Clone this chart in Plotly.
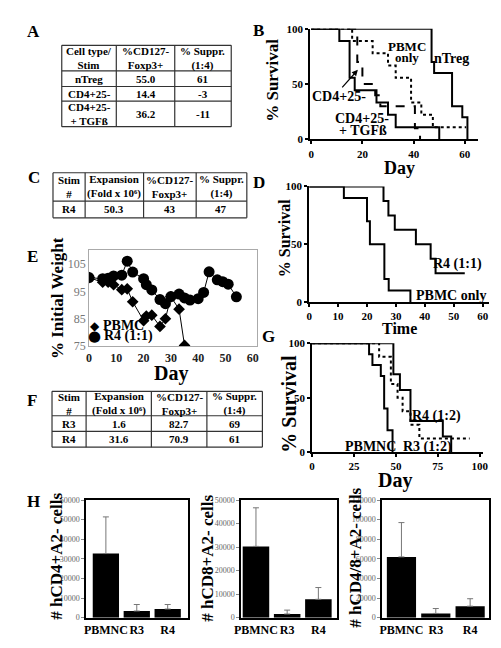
import plotly.graph_objects as go

W, H = 501, 648
def X(px): return px / W
def Y(py): return 1 - py / H

SERIF = "Liberation Serif"

# ---------------- DATA ----------------
# Table A
A_header = ["Cell type/<br>Stim", "%CD127-<br>Foxp3+", "% Suppr.<br>(1:4)"]
A_rows = [["nTreg", "55.0", "61"], ["CD4+25-", "14.4", "-3"], ["CD4+25-<br>+ TGFß", "36.2", "-11"]]
# Table C
C_header = ["Stim<br>#", "Expansion<br>(Fold x 10⁶)", "%CD127-<br>Foxp3+", "% Suppr.<br>(1:4)"]
C_rows = [["R4", "50.3", "43", "47"]]
# Table F
F_header = ["Stim<br>#", "Expansion<br>(Fold x 10⁶)", "%CD127-<br>Foxp3+", "% Suppr.<br>(1:4)"]
F_rows = [["R3", "1.6", "82.7", "69"], ["R4", "31.6", "70.9", "61"]]

# Panel B survival (day, % survival)
B_ntreg_day = [0, 47, 48, 55, 59, 61]
B_ntreg_surv = [100, 70, 60, 30, 20, 0]
B_pbmc_day = [0, 16, 24, 30, 33, 39, 43, 47.5, 60.5]
B_pbmc_surv = [100, 88.9, 77.8, 66.7, 55.6, 33.3, 22.2, 11.1, 11.1]
B_cd4_day = [0, 11, 15, 17, 25.5, 30, 33, 50]
B_cd4_surv = [100, 88.9, 55.6, 44.4, 33.3, 22.2, 11.1, 0]
B_tgf_day = [0, 18, 20, 25, 27, 40.5, 42.5]
B_tgf_surv = [100, 70, 50, 40, 30, 10, 0]

# Panel D
D_r4_day = [0, 25.7, 27.4, 29.6, 36.9, 42, 43.7, 53.8]
D_r4_surv = [100, 87.5, 75, 62.5, 50, 37.5, 25, 25]
D_pbmc_day = [0, 12, 20, 21, 26, 27.5, 35]
D_pbmc_surv = [100, 90, 70, 50, 20, 10, 0]

# Panel E weights
E_pbmc_day = [0, 5, 7, 9, 12, 14, 16, 20, 21, 23, 26, 28, 30, 33, 35]
E_pbmc_w = [100, 98.3, 98.3, 97.4, 95.6, 95.9, 91.2, 84.3, 86.0, 86.3, 82.2, 85.0, 93.0, 88.5, 75.3]
E_r4_day = [0, 5, 7, 9, 12, 14, 16, 20, 21, 23, 26, 28, 30, 33, 35, 37, 40, 42, 44, 47, 49, 51, 54]
E_r4_w = [100, 99.6, 99.8, 100.6, 100.9, 106, 102, 99.6, 97.4, 95.5, 92, 90.5, 93.1, 94, 92.6, 91.8, 92.3, 94.6, 102.1, 99.2, 98.5, 97.6, 93]

# Panel G
G_pbmnc_day = [0, 34, 36, 41, 43, 45, 48]
G_pbmnc_surv = [100, 90, 80, 70, 40, 20, 0]
G_r4_day = [0, 48.5, 52.4, 58.7, 78, 83]
G_r4_surv = [100, 71.4, 57.1, 28.6, 14.3, 0]
G_r3_day = [0, 40, 47, 51, 54, 58.7, 64, 94]
G_r3_surv = [100, 87.5, 62.5, 50, 37.5, 25, 12.5, 12.5]

# Panel H
H_cats = ["PBMNC", "R3", "R4"]
H1_vals = [32700, 3400, 4400]
H1_err = [51400, 6700, 6700]
H2_vals = [30300, 1550, 7800]
H2_err = [46700, 3200, 12800]
H3_vals = [62000, 4300, 11700]
H3_err = [97000, 9300, 19300]

# ---------------- FIGURE ----------------
fig = go.Figure()
ann = []
shapes = []

def text(x, y, s, size=11, bold=True, color="black", angle=0, xanchor="center", family=SERIF):
    ann.append(dict(x=X(x), y=Y(y), xref="paper", yref="paper", text=s, showarrow=False,
                    textangle=angle, xanchor=xanchor, yanchor="middle",
                    font=dict(family=family, size=size, color=color, weight="bold" if bold else "normal")))

def hline(x0, x1, y, color="#333", w=1.2):
    shapes.append(dict(type="line", xref="paper", yref="paper", x0=X(x0), x1=X(x1), y0=Y(y), y1=Y(y),
                       line=dict(color=color, width=w)))

def vline(x, y0, y1, color="#333", w=1.2):
    shapes.append(dict(type="line", xref="paper", yref="paper", x0=X(x), x1=X(x), y0=Y(y0), y1=Y(y1),
                       line=dict(color=color, width=w)))

def table(cols, rows_y, header, rows):
    for ry in rows_y:
        hline(cols[0], cols[-1], ry)
    for cx in cols:
        vline(cx, rows_y[0], rows_y[-1])
    all_rows = [header] + rows
    for i, row in enumerate(all_rows):
        yc = (rows_y[i] + rows_y[i + 1]) / 2
        for j, cell in enumerate(row):
            xc = (cols[j] + cols[j + 1]) / 2
            text(xc, yc, cell, size=11)

# Tables
table([48, 104, 164, 222], [32, 58, 74, 89, 115], A_header, A_rows)
table([39, 72, 132, 186, 238], [162, 191, 208], C_header, C_rows)
table([38, 73, 140, 197, 254], [385, 410, 426, 442], F_header, F_rows)

# Panel letters
for lab, (lx, ly) in {"A": (19, 18), "B": (250, 17), "C": (19, 167), "D": (251, 172),
                      "E": (18, 247), "F": (17, 394), "G": (260, 329), "H": (19, 497)}.items():
    text(lx, ly, lab, size=17)

surv_axis = dict(showline=True, linecolor="black", linewidth=2, ticks="outside", ticklen=3,
                 tickwidth=2, tickcolor="black", showgrid=False, zeroline=False,
                 tickfont=dict(family=SERIF, size=11, color="black", weight="bold"))

def step(xs, ys, xa, ya, dash="solid"):
    fig.add_trace(go.Scatter(x=xs, y=ys, mode="lines", line=dict(color="black", width=2, dash=dash, shape="hv"),
                             xaxis=xa, yaxis=ya, showlegend=False, hoverinfo="skip"))

# ---- Panel B ----
step(B_ntreg_day, B_ntreg_surv, "x", "y")
step(B_pbmc_day, B_pbmc_surv, "x", "y", "dot")
step(B_cd4_day, B_cd4_surv, "x", "y")
step(B_tgf_day, B_tgf_surv, "x", "y", "dash")

# ---- Panel D ----
step(D_r4_day, D_r4_surv, "x2", "y2")
step(D_pbmc_day, D_pbmc_surv, "x2", "y2")

# ---- Panel G ----
step(G_pbmnc_day, G_pbmnc_surv, "x4", "y4")
step(G_r4_day, G_r4_surv, "x4", "y4")
step(G_r3_day, G_r3_surv, "x4", "y4", "dot")

# ---- Panel E ----
fig.add_trace(go.Scatter(x=E_pbmc_day, y=E_pbmc_w, mode="lines+markers", xaxis="x3", yaxis="y3",
                         line=dict(color="black", width=1), marker=dict(symbol="diamond", size=9, color="black"),
                         showlegend=False))
fig.add_trace(go.Scatter(x=E_r4_day, y=E_r4_w, mode="lines+markers", xaxis="x3", yaxis="y3",
                         line=dict(color="black", width=1), marker=dict(symbol="circle", size=11, color="black"),
                         showlegend=False))

# ---- Panel H ----
for vals, errs, xa, ya in [(H1_vals, H1_err, "x5", "y5"), (H2_vals, H2_err, "x6", "y6"), (H3_vals, H3_err, "x7", "y7")]:
    fig.add_trace(go.Bar(x=H_cats, y=vals, xaxis=xa, yaxis=ya, width=0.85, marker=dict(color="black", line=dict(width=0)),
                         error_y=dict(type="data", symmetric=False, array=[e - v for e, v in zip(errs, vals)],
                                      arrayminus=[0, 0, 0], color="#777", thickness=1, width=3),
                         showlegend=False))

layout = dict(
    width=W, height=H, margin=dict(l=0, r=0, t=0, b=0), paper_bgcolor="white", plot_bgcolor="white",
    showlegend=False,
    # B
    xaxis=dict(domain=[X(303), X(475)], range=[-0.4, 65], anchor="y", tickvals=[0, 20, 40, 60], **surv_axis),
    yaxis=dict(domain=[Y(128), Y(15)], range=[0, 100], anchor="x", tickvals=[0, 50, 100], **surv_axis),
    # D
    xaxis2=dict(domain=[X(302), X(487)], range=[0, 62.3], anchor="y2", tickvals=[0, 10, 20, 30, 40, 50, 60], **surv_axis),
    yaxis2=dict(domain=[Y(294), Y(176)], range=[0, 100], anchor="x2", tickvals=[0, 50, 100], **surv_axis),
    # E
    xaxis3=dict(domain=[X(76), X(248)], range=[0, 61.4], anchor="y3", tickvals=[0, 10, 20, 30, 40, 50, 60],
                showline=True, mirror=True, linecolor="#aaa", linewidth=1, showgrid=False, zeroline=False, ticks="",
                tickfont=dict(family=SERIF, size=12, color="#222", weight="bold")),
    yaxis3=dict(domain=[Y(339), Y(241)], range=[75, 110], anchor="x3", tickvals=[75, 85, 95, 105],
                showline=True, mirror=True, linecolor="#aaa", linewidth=1, showgrid=False, zeroline=False, ticks="",
                tickfont=dict(family=SERIF, size=12, color="#777")),
    # G
    xaxis4=dict(domain=[X(305), X(480)], range=[0, 101.7], anchor="y4", tickvals=[0, 25, 50, 75, 100], **surv_axis),
    yaxis4=dict(domain=[Y(447), Y(336)], range=[0, 100], anchor="x4", tickvals=[0, 50, 100], **surv_axis),
)

h_x = dict(showline=True, mirror=True, linecolor="black", linewidth=1.5, ticks="", showgrid=False, zeroline=False,
           tickangle=0, tickfont=dict(family=SERIF, size=12, color="black", weight="bold"), type="category")
h_y = dict(showline=True, mirror=True, linecolor="black", linewidth=1.5, ticks="outside", ticklen=3,
           tickcolor="#888", showgrid=False, zeroline=False, tickformat="d",
           tickfont=dict(family=SERIF, size=8, color="#666"))
layout["xaxis5"] = dict(domain=[X(73), X(178)], range=[-0.64, 2.67], anchor="y5", **h_x)
layout["yaxis5"] = dict(domain=[Y(616), Y(496)], range=[0, 60000], anchor="x5",
                        tickvals=list(range(0, 60001, 10000)), **h_y)
layout["xaxis6"] = dict(domain=[X(232), X(331)], range=[-0.48, 2.61], anchor="y6", **h_x)
layout["yaxis6"] = dict(domain=[Y(616), Y(496)], range=[0, 50000], anchor="x6",
                        tickvals=list(range(0, 50001, 10000)), **h_y)
layout["xaxis7"] = dict(domain=[X(377), X(487)], range=[-0.56, 2.56], anchor="y7", **h_x)
layout["yaxis7"] = dict(domain=[Y(616), Y(496)], range=[0, 120000], anchor="x7",
                        tickvals=list(range(0, 120001, 20000)), **h_y)

# Axis titles
text(264, 68, "% Survival", size=17, angle=-90)
text(395, 157, "Day", size=18)
text(277, 229, "% Survival", size=16, angle=-90)
text(395, 321, "Time", size=16)
text(281, 398, "% Survival", size=20, angle=-90)
text(390, 476, "Day", size=20)
text(43, 290, "% Initial Weight", size=17, angle=-90)
text(160, 367, "Day", size=20)
text(43, 553, "# hCD4+A2- cells", size=17, angle=-90)
text(198, 555, "# hCD8+A2- cells", size=17, angle=-90)
text(350, 555, "# hCD4/8+A2- cells", size=17, angle=-90)

# Curve labels
text(402, 33, "PBMC", size=13)
text(402, 44, "only", size=13)
text(448, 45, "nTreg", size=14)
text(333, 84, "CD4+25-", size=14)
text(356, 107, "CD4+25-", size=14)
text(357, 119, "+ TGFß", size=14)
ann.append(dict(x=X(352), y=Y(57), ax=-17, ay=19, xref="paper", yref="paper", axref="pixel", ayref="pixel",
                text="", showarrow=True, arrowhead=2, arrowsize=1, arrowwidth=1.2, arrowcolor="black"))
text(454, 255, "R4 (1:1)", size=14)
text(448, 287, "PBMC only", size=14)
text(433, 410, "R4 (1:2)", size=14)
text(365, 441, "PBMNC", size=14)
text(424, 442, "R3 (1:2)", size=14)

# E legend
text(82, 318, "◆", size=12, family="DejaVu Sans")
text(88, 318, "PBMC", size=14, xanchor="left")
text(82, 329, "●", size=15, family="DejaVu Sans")
text(89, 329, "R4 (1:1)", size=14, xanchor="left")

layout["annotations"] = ann
layout["shapes"] = shapes
fig.update_layout(**layout)
fig.write_html("out.html")
